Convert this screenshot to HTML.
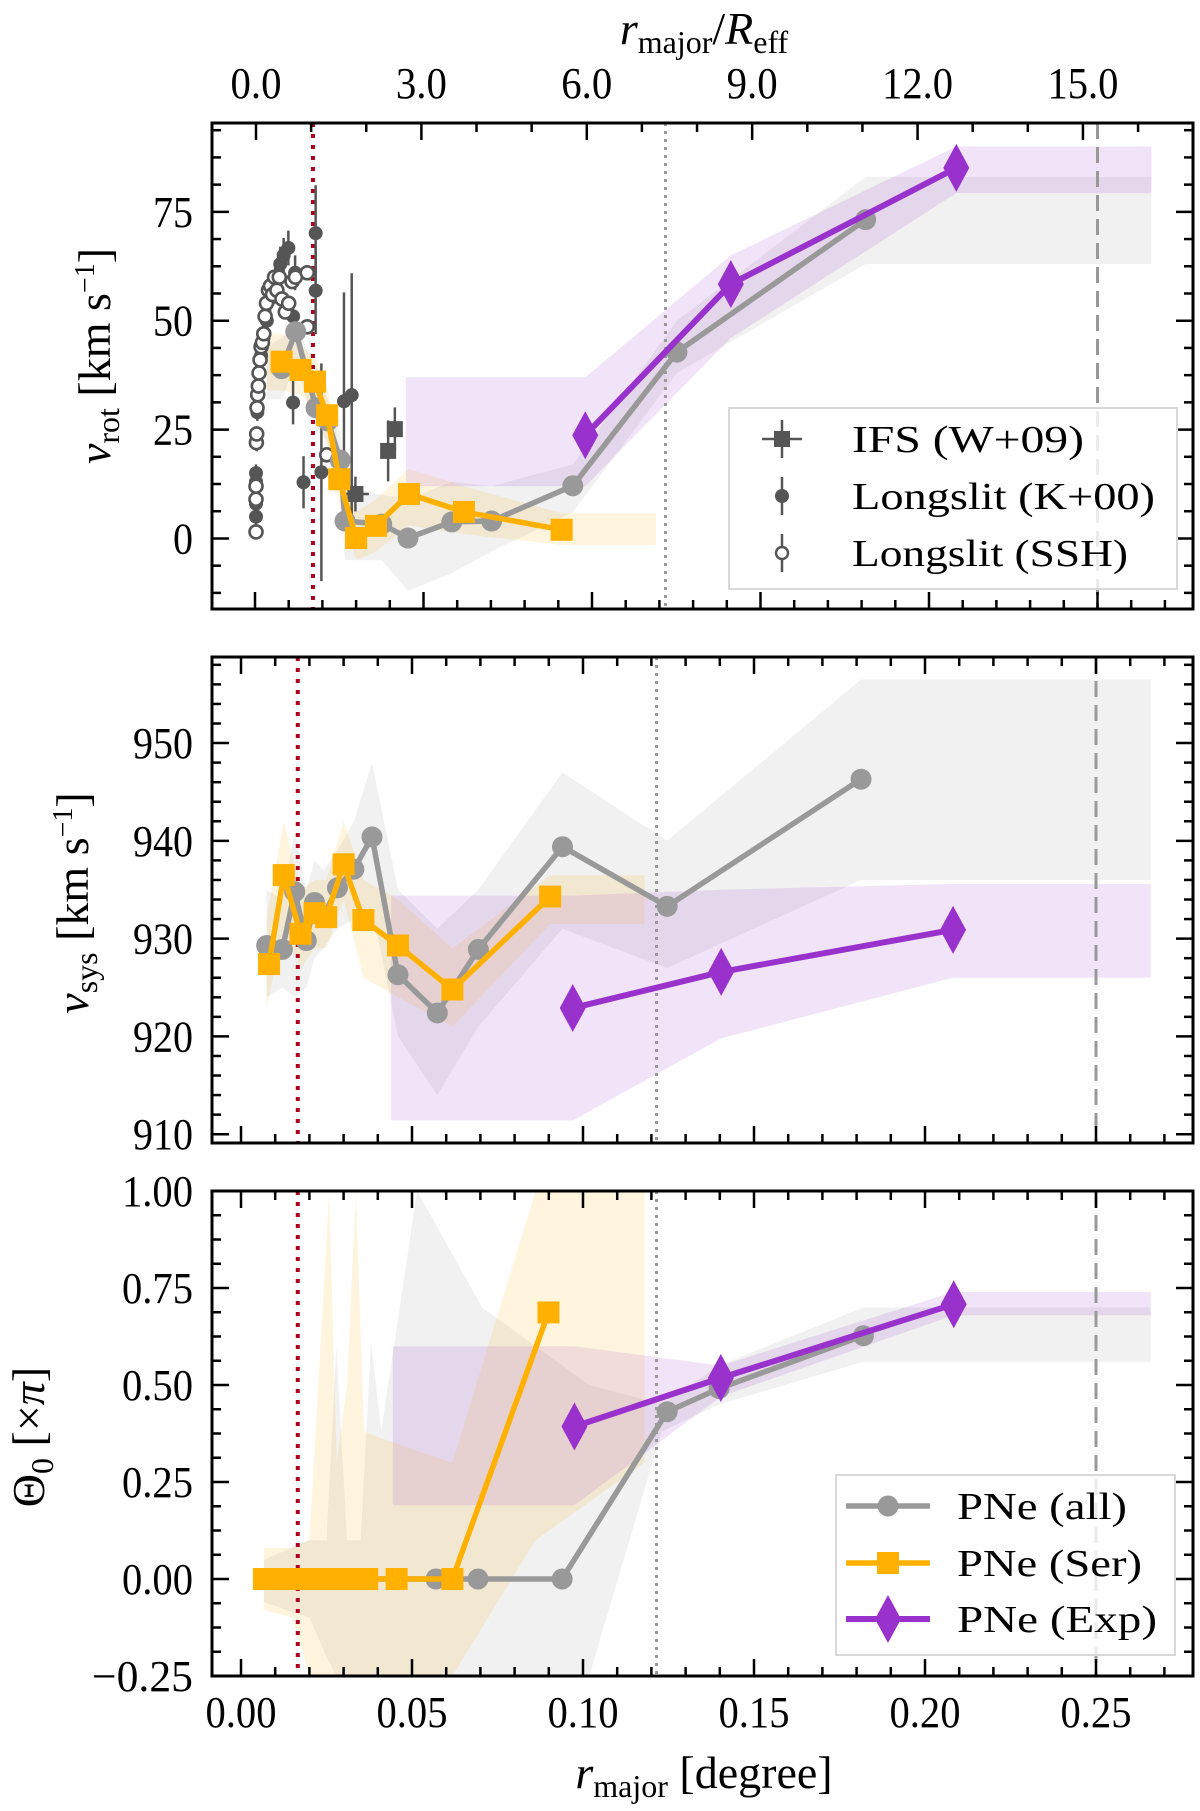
<!DOCTYPE html>
<html><head><meta charset="utf-8">
<style>
html,body{margin:0;padding:0;background:#fff;}
svg{display:block;font-family:"Liberation Serif","DejaVu Serif",serif;}
</style></head>
<body>
<svg id="fig" width="1200" height="1811" viewBox="0 0 1200 1811" xmlns="http://www.w3.org/2000/svg"></svg>
<script>
// ---------- Panel 1 data (v_rot) ----------
const p1AllX = [0.0079,0.0121,0.0181,0.0216,0.0253,0.0267,0.0376,0.0454,0.0584,0.0702,0.0943,0.1252,0.1812];
const p1AllV = [39,47.5,30,27,18,4,3.3,0.1,3.8,4,12.1,42.8,73.2];
const p1SerX = [0.0079,0.0135,0.0178,0.0214,0.025,0.030,0.0359,0.0457,0.062,0.091];
const p1SerV = [40.6,38.7,36,28.3,13.6,0.1,2.9,10.2,6.1,2.0];
const p1ExpX = [0.098,0.1412,0.2081];
const p1ExpV = [23.7,58.4,85.1];
const p1AllBandX = [0.0035,0.0079,0.0121,0.0181,0.0216,0.0253,0.0267,0.0376,0.0454,0.0584,0.0702,0.0943,0.1252,0.1812,0.266];
const p1AllLo = [32,32,40,25,22,10,-5,-5,-12,-8,-3,6,38,63,63];
const p1AllHi = [44,46,50,38,32,24,12,10,9,13,12,17,50,83,83];
const p1SerBandX = [0.0035,0.0079,0.0135,0.0178,0.0214,0.025,0.030,0.0359,0.0457,0.062,0.091,0.119];
const p1SerLo = [34,34,33,30,22,8,-5,-3,3,1,-1.5,-1.5];
const p1SerHi = [47,47,44,42,35,20,6,9,16,12,5.8,5.8];
const p1ExpBandX = [0.0448,0.098,0.1412,0.2081,0.266];
const p1ExpLo = [12,12,46,79.3,79.3];
const p1ExpHi = [37,37,65,90,90];
const k00X = [0.0003,0.0003,0.0003,0.0003,0.0005,0.0007,0.0010,0.0013,0.0018,0.0025,0.0035,0.0045,0.0060,0.0075,0.0085,0.0099,0.0119,0.0113,0.0113,0.0144,0.0180,0.0180,0.0197,0.0264,0.0287];
const k00V = [5,8,13,15,22,29,33,38,42,46,50,55,60,63,65,66.7,61,51,31.2,12.9,70.1,56.9,15.2,31.5,32.9];
const k00E = [2,2,2,2,2,2,2,3,3,3,3,3,3,4,4,4,4,4,5,6,11,10,25,25,28];
const sshX = [0.0003,0.0003,0.0003,0.0004,0.0005,0.0006,0.0008,0.0010,0.0012,0.0015,0.0018,0.0022,0.0026,0.0030,0.0034,0.0040,0.0046,0.0052,0.0058,0.0065,0.0072,0.0080,0.0090,0.0100,0.0110,0.0120,0.0155,0.0155,0.0213];
const sshV = [1.5,9,12,22,24,30,33,35,38,41,44,45,47,51,54,57,58,56,60,57,60,55,52,54,59,60,61,48.6,19.2];
const ifsX = [0.0415,0.0395,0.0298];
const ifsV = [25.1,20.1,10.2];
const ifsXE = [0.0015,0.0015,0.004];
const ifsVE = [5,7,4];
const p1VLines = [0.0172,0.1218,0.25];

// ---------- Panel 2 data (v_sys) ----------
const p2AllX = [0.0075,0.0121,0.0157,0.0191,0.0215,0.0241,0.0282,0.033,0.0383,0.0459,0.0574,0.0694,0.094,0.1246,0.1813];
const p2AllV = [929.3,928.9,934.8,929.8,933.7,932.3,935.2,937.1,940.4,926.3,922.4,928.9,939.4,933.3,946.3];
const p2SerX = [0.0082,0.0125,0.0174,0.0215,0.0249,0.030,0.0358,0.0459,0.0618,0.0904];
const p2SerV = [927.4,936.5,930.5,932.6,932.2,937.6,931.9,929.3,924.8,934.3];
const p2ExpX = [0.097,0.1404,0.2082];
const p2ExpV = [922.9,926.6,930.9];
const p2AllBandX = [0.0075,0.0121,0.0157,0.0191,0.0215,0.0241,0.0282,0.033,0.0383,0.0459,0.0574,0.0694,0.094,0.1246,0.1813,0.266];
const p2AllLo = [924,925,924,925,928,929,931,932,933,920,914,921,931,927,936,936];
const p2AllHi = [935,934,941,935,938,937,939,942,948,935,931,935,947,940,956.5,956.5];
const p2SerBandX = [0.0075,0.0125,0.0174,0.0215,0.0249,0.030,0.0358,0.0459,0.0618,0.0904,0.118];
const p2SerLo = [923,931,927,929,929,934,926,924,921,931.5,931.5];
const p2SerHi = [932,942,935,936,936,942,936,934,929,936.5,936.5];
const p2ExpBandX = [0.0439,0.097,0.1404,0.2082,0.266];
const p2ExpLo = [911.4,911.4,919.8,926,926];
const p2ExpHi = [934.4,934.4,935,935.6,935.6];
const p2VLines = [0.0166,0.1215,0.25];

// ---------- Panel 3 data (Theta_0) ----------
const p3AllX = [0.0067,0.013,0.020,0.028,0.0369,0.057,0.0693,0.0939,0.1246,0.1398,0.182];
const p3AllV = [0,0,0,0,0,0,0,0,0.431,0.491,0.627];
const p3SerX = [0.0067,0.010,0.013,0.017,0.021,0.025,0.029,0.033,0.0369,0.0455,0.0618,0.0899];
const p3SerV = [0,0,0,0,0,0,0,0,0,0,0,0.687];
const p3ExpX = [0.0975,0.1403,0.2084];
const p3ExpV = [0.393,0.518,0.708];
const p3AllBandX = [0.0067,0.020,0.025,0.0279,0.031,0.035,0.038,0.041,0.0515,0.0705,0.1018,0.123,0.1398,0.182,0.266];
const p3AllLo = [-0.06,-0.1,-0.2,-0.25,-0.25,-0.25,-0.25,-0.25,-0.25,-0.25,-0.25,0.38,0.45,0.56,0.56];
const p3AllHi = [0.05,0.1,0.1,0.60,0.1,0.1,0.61,0.38,1.0,0.70,0.5,0.45,0.55,0.70,0.70];
const p3SerBandX = [0.0067,0.015,0.020,0.0258,0.028,0.031,0.0336,0.036,0.045,0.0618,0.0861,0.118];
const p3SerLo = [-0.08,-0.1,-0.25,-0.25,-0.25,-0.25,-0.25,-0.25,-0.25,-0.25,0.1,0.30];
const p3SerHi = [0.08,0.08,0.1,1.0,0.3,0.5,1.0,0.38,0.35,0.3,1.0,1.0];
const p3ExpBandX = [0.0444,0.0975,0.1403,0.2084,0.266];
const p3ExpLo = [0.19,0.19,0.47,0.68,0.68];
const p3ExpHi = [0.60,0.60,0.55,0.74,0.74];
const p3VLines = [0.0166,0.1215,0.25];

// ---------- tick labels ----------
const topTickLabels = ["0.0","3.0","6.0","9.0","12.0","15.0"];
const topTickVals = [0,3,6,9,12,15];
const xTickVals = [0,0.05,0.10,0.15,0.20,0.25];
const xTickLabels = ["0.00","0.05","0.10","0.15","0.20","0.25"];
const p1YTicks = [0,25,50,75];
const p2YTicks = [910,920,930,940,950];
const p3YTicks = [-0.25,0,0.25,0.5,0.75,1.0];
const p3YLabels = ["\u22120.25","0.00","0.25","0.50","0.75","1.00"];

const NS = "http://www.w3.org/2000/svg";
const svg = document.getElementById('fig');
function mk(tag, attrs, parent){
  const e = document.createElementNS(NS, tag);
  for (const k in attrs) e.setAttribute(k, attrs[k]);
  (parent||svg).appendChild(e);
  return e;
}
function tlen(s){
  let n = 0;
  for (const ch of s){ n += (ch === '.') ? 11 : (ch === '\u2212' ? 30 : 20); }
  return n;
}
const L = 212, R = 1193;
const GRAY = "#999999", ORANGE = "#FFB000", PURPLE = "#9932CC", DARK = "#555555";

function makePanel(id, top, bottom, x0, xs, ymin, ymax){
  return {id, top, bottom, x0, xs, ymin, ymax,
    x: d => x0 + xs*d,
    y: v => bottom - (v - ymin)/(ymax - ymin)*(bottom - top)};
}
const P1 = makePanel('p1', 123, 609, 255, 3370, -16.2, 95.4);
const P2 = makePanel('p2', 657, 1143, 241, 3420, 909.1, 958.8);
const P3 = makePanel('p3', 1191, 1676, 241, 3420, -0.25, 1.0);

function defsClip(P){
  let defs = svg.querySelector('defs') || mk('defs', {});
  const cp = mk('clipPath', {id: 'clip-'+P.id}, defs);
  mk('rect', {x: L, y: P.top, width: R-L, height: P.bottom-P.top}, cp);
}
function group(P, name){
  const g = mk('g', {'clip-path': 'url(#clip-'+P.id+')'});
  
  
  return g;
}
function band(P, g, xs, lo, hi, fill, name){
  let pts = [];
  for (let i=0;i<xs.length;i++) pts.push(P.x(xs[i]).toFixed(1)+','+P.y(hi[i]).toFixed(1));
  for (let i=xs.length-1;i>=0;i--) pts.push(P.x(xs[i]).toFixed(1)+','+P.y(lo[i]).toFixed(1));
  const p = mk('polygon', {points: pts.join(' '), fill: fill, stroke: 'none'}, g);
  
  
}
function line(P, g, xs, vs, color, w, name){
  const pts = xs.map((d,i)=>P.x(d).toFixed(1)+','+P.y(vs[i]).toFixed(1)).join(' ');
  const p = mk('polyline', {points: pts, fill: 'none', stroke: color, 'stroke-width': w, 'stroke-linejoin': 'round'}, g);
  
  
}
function marker(g, type, cx, cy, color, name){
  let e;
  if (type === 'circle') e = mk('circle', {cx, cy, r: 10.5, fill: color}, g);
  else if (type === 'square') e = mk('rect', {x: cx-11, y: cy-11, width: 22, height: 22, fill: color}, g);
  else e = mk('polygon', {points: `${cx},${cy-24} ${cx+13},${cy} ${cx},${cy+24} ${cx-13},${cy}`, fill: color}, g);
  
  
  return e;
}
function series(P, g, xs, vs, color, w, type, name){
  line(P, g, xs, vs, color, w, name+'-line');
  xs.forEach((d,i)=>marker(g, type, P.x(d), P.y(vs[i]), color, name+'-point'));
}
function vlines(P, g, vals){
  const styles = [{c:'#B0001E', d:'4,7', w:4, n:'red-dotted-line'},
                  {c:'#999999', d:'3,5', w:3, n:'gray-dotted-line'},
                  {c:'#999999', d:'16,8', w:3, n:'gray-dashed-line'}];
  vals.forEach((v,i)=>{
    const s = styles[i];
    const l = mk('line', {x1: P.x(v), x2: P.x(v), y1: P.top, y2: P.bottom, stroke: s.c, 'stroke-width': s.w, 'stroke-dasharray': s.d}, g);
    
    
  });
}
function axes(P, yTicks, yLabels, yMinorStep, showBottomLabels, topMode){
  const ag = mk('g', {});
  
  
  for (let k=0;k<=28;k++){
    const d = k*0.01; const x = P.x(d);
    if (x < L || x > R) continue;
    const major = k%5===0; const len = major?17:9;
    mk('line', {x1:x, x2:x, y1:P.bottom, y2:P.bottom-len, stroke:'#000', 'stroke-width':2.5}, ag);
    if (!topMode) mk('line', {x1:x, x2:x, y1:P.top, y2:P.top+len, stroke:'#000', 'stroke-width':2.5}, ag);
  }
  if (topMode){
    const reff = 55.13;
    for (let k=0;k<=17;k++){
      const x = 256 + k*reff; if (x > R) continue;
      const major = k%3===0; const len = major?17:9;
      mk('line', {x1:x, x2:x, y1:P.top, y2:P.top+len, stroke:'#000', 'stroke-width':2.5}, ag);
    }
    topTickVals.forEach((v,i)=>{
      const s = topTickLabels[i];
      const t = mk('text', {x: 256+v*reff, y: 98, 'font-size': 44, 'text-anchor':'middle', textLength: tlen(s), lengthAdjust:'spacingAndGlyphs'}, ag);
      t.textContent = s;
      
      
    });
  }
  const start = Math.ceil(P.ymin / yMinorStep - 1e-9);
  for (let k=start; k*yMinorStep <= P.ymax; k++){
    const v = k*yMinorStep; const y = P.y(v);
    const isMajor = yTicks.some(t=>Math.abs(t-v)<1e-6);
    const len = isMajor?17:9;
    mk('line', {x1:L, x2:L+len, y1:y, y2:y, stroke:'#000', 'stroke-width':2.5}, ag);
    mk('line', {x1:R, x2:R-len, y1:y, y2:y, stroke:'#000', 'stroke-width':2.5}, ag);
  }
  yTicks.forEach((v,i)=>{
    const s = yLabels[i];
    const t = mk('text', {x: 193, y: P.y(v)+15, 'font-size': 44, 'text-anchor':'end', textLength: tlen(s), lengthAdjust:'spacingAndGlyphs'}, ag);
    t.textContent = s;
    
    
  });
  if (showBottomLabels){
    xTickVals.forEach((v,i)=>{
      const s = xTickLabels[i];
      const t = mk('text', {x: P.x(v), y: 1727, 'font-size': 44, 'text-anchor':'middle', textLength: tlen(s), lengthAdjust:'spacingAndGlyphs'}, ag);
      t.textContent = s;
      
      
    });
  }
  const fr = mk('rect', {x:L, y:P.top, width:R-L, height:P.bottom-P.top, fill:'none', stroke:'#000', 'stroke-width':3}, ag);
  
  
}

[P1,P2,P3].forEach(defsClip);

// ---- Panel 1 ----
let g = group(P1, 'vrot-plot');
band(P1, g, p1AllBandX, p1AllLo, p1AllHi, 'rgba(200,200,200,0.25)', 'all-band');
band(P1, g, p1SerBandX, p1SerLo, p1SerHi, 'rgba(255,176,0,0.13)', 'ser-band');
band(P1, g, p1ExpBandX, p1ExpLo, p1ExpHi, 'rgba(153,50,204,0.13)', 'exp-band');
vlines(P1, g, p1VLines);
k00X.forEach((d,i)=>{
  const x = P1.x(d);
  const e = mk('line', {x1:x, x2:x, y1:P1.y(k00V[i]-k00E[i]), y2:P1.y(k00V[i]+k00E[i]), stroke:DARK, 'stroke-width':2.5}, g);
  
  
  const c = mk('circle', {cx:x, cy:P1.y(k00V[i]), r:7, fill:DARK}, g);
  
  
});
sshX.forEach((d,i)=>{
  const c = mk('circle', {cx:P1.x(d), cy:P1.y(sshV[i]), r:6.5, fill:'#fff', stroke:DARK, 'stroke-width':2.6}, g);
  
  
});
ifsX.forEach((d,i)=>{
  const x = P1.x(d), y = P1.y(ifsV[i]);
  const e1 = mk('line', {x1:x, x2:x, y1:P1.y(ifsV[i]-ifsVE[i]), y2:P1.y(ifsV[i]+ifsVE[i]), stroke:DARK, 'stroke-width':2.5}, g);
  
  
  const e2 = mk('line', {x1:P1.x(d-ifsXE[i]), x2:P1.x(d+ifsXE[i]), y1:y, y2:y, stroke:DARK, 'stroke-width':2.5}, g);
  
  
  const s = mk('rect', {x:x-8, y:y-8, width:16, height:16, fill:DARK}, g);
  
  
});
series(P1, g, p1AllX, p1AllV, GRAY, 5.5, 'circle', 'pne-all');
series(P1, g, p1SerX, p1SerV, ORANGE, 5.5, 'square', 'pne-ser');
series(P1, g, p1ExpX, p1ExpV, PURPLE, 6, 'diamond', 'pne-exp');
axes(P1, p1YTicks, p1YTicks.map(String), 6.25, false, true);

// ---- Panel 2 ----
g = group(P2, 'vsys-plot');
band(P2, g, p2AllBandX, p2AllLo, p2AllHi, 'rgba(200,200,200,0.25)', 'all-band');
band(P2, g, p2SerBandX, p2SerLo, p2SerHi, 'rgba(255,176,0,0.13)', 'ser-band');
band(P2, g, p2ExpBandX, p2ExpLo, p2ExpHi, 'rgba(153,50,204,0.13)', 'exp-band');
vlines(P2, g, p2VLines);
series(P2, g, p2AllX, p2AllV, GRAY, 5.5, 'circle', 'pne-all');
series(P2, g, p2SerX, p2SerV, ORANGE, 5.5, 'square', 'pne-ser');
series(P2, g, p2ExpX, p2ExpV, PURPLE, 6, 'diamond', 'pne-exp');
axes(P2, p2YTicks, p2YTicks.map(String), 2, false, false);

// ---- Panel 3 ----
g = group(P3, 'theta-plot');
band(P3, g, p3AllBandX, p3AllLo, p3AllHi, 'rgba(200,200,200,0.25)', 'all-band');
band(P3, g, p3SerBandX, p3SerLo, p3SerHi, 'rgba(255,176,0,0.13)', 'ser-band');
band(P3, g, p3ExpBandX, p3ExpLo, p3ExpHi, 'rgba(153,50,204,0.13)', 'exp-band');
vlines(P3, g, p3VLines);
series(P3, g, p3AllX, p3AllV, GRAY, 5.5, 'circle', 'pne-all');
series(P3, g, p3SerX, p3SerV, ORANGE, 5.5, 'square', 'pne-ser');
series(P3, g, p3ExpX, p3ExpV, PURPLE, 6, 'diamond', 'pne-exp');
axes(P3, p3YTicks, p3YLabels, 0.0625, true, false);

// ---- Legends ----
function legendBox(x,y,w,h,name){
  const r = mk('rect', {x, y, width:w, height:h, fill:'rgba(255,255,255,0.8)', stroke:'#d8d8d8', 'stroke-width':2});
  
  
}
function legendText(x,y,txt,len){
  const t = mk('text', {x, y, 'font-size':38, textLength:len, lengthAdjust:'spacingAndGlyphs'});
  t.textContent = txt;
  
  
}
legendBox(729,408,448,181,'legend-observations');
mk('line',{x1:762,x2:802,y1:439,y2:439,stroke:DARK,'stroke-width':2.5});
mk('line',{x1:782,x2:782,y1:420,y2:458,stroke:DARK,'stroke-width':2.5});
mk('rect',{x:774,y:431,width:16,height:16,fill:DARK});
legendText(852,452,'IFS (W+09)',232);
mk('line',{x1:782,x2:782,y1:477,y2:515,stroke:DARK,'stroke-width':2.5});
mk('circle',{cx:782,cy:496,r:7,fill:DARK});
legendText(852,509,'Longslit (K+00)',303);
mk('line',{x1:782,x2:782,y1:534,y2:572,stroke:DARK,'stroke-width':2.5});
mk('circle',{cx:782,cy:553,r:6,fill:'#fff',stroke:DARK,'stroke-width':2.4});
legendText(852,566,'Longslit (SSH)',276);

legendBox(836,1475,339,180,'legend-pne');
mk('line',{x1:846,x2:930,y1:1506,y2:1506,stroke:GRAY,'stroke-width':5.5});
mk('circle',{cx:888,cy:1506,r:10.5,fill:GRAY});
legendText(957,1519,'PNe (all)',170);
mk('line',{x1:846,x2:930,y1:1563,y2:1563,stroke:ORANGE,'stroke-width':5.5});
mk('rect',{x:877,y:1552,width:22,height:22,fill:ORANGE});
legendText(957,1576,'PNe (Ser)',185);
mk('line',{x1:846,x2:930,y1:1619,y2:1619,stroke:PURPLE,'stroke-width':6});
mk('polygon',{points:'888,1595 901,1619 888,1643 875,1619',fill:PURPLE});
legendText(957,1632,'PNe (Exp)',200);

// ---- Axis titles ----
function title(html, x, y, rot, name){
  const t = mk('text', {x, y, 'font-size':46, 'text-anchor':'middle', transform: rot?`rotate(-90 ${x} ${y})`:''});
  t.innerHTML = html;
  
  
}
title('<tspan font-style="italic">r</tspan><tspan font-size="32" dy="9">major</tspan><tspan dy="-9">/</tspan><tspan font-style="italic">R</tspan><tspan font-size="32" dy="9">eff</tspan>', 704, 44, false, 'top-axis-title');
title('<tspan font-style="italic">r</tspan><tspan font-size="32" dy="9">major</tspan><tspan dy="-9"> [degree]</tspan>', 704, 1788, false, 'x-axis-title');
title('<tspan font-style="italic">v</tspan><tspan font-size="32" dy="9">rot</tspan><tspan dy="-9"> [km s</tspan><tspan font-size="28" dy="-16">\u22121</tspan><tspan dy="16">]</tspan>', 110, 356, true, 'vrot-axis-title');
title('<tspan font-style="italic">v</tspan><tspan font-size="32" dy="9">sys</tspan><tspan dy="-9"> [km s</tspan><tspan font-size="28" dy="-16">\u22121</tspan><tspan dy="16">]</tspan>', 88, 903, true, 'vsys-axis-title');
title('\u0398<tspan font-size="32" dy="9">0</tspan><tspan dy="-9"> [\u00d7</tspan><tspan font-style="italic">\u03c0</tspan>]', 44, 1437, true, 'theta-axis-title');
</script>
</body></html>
